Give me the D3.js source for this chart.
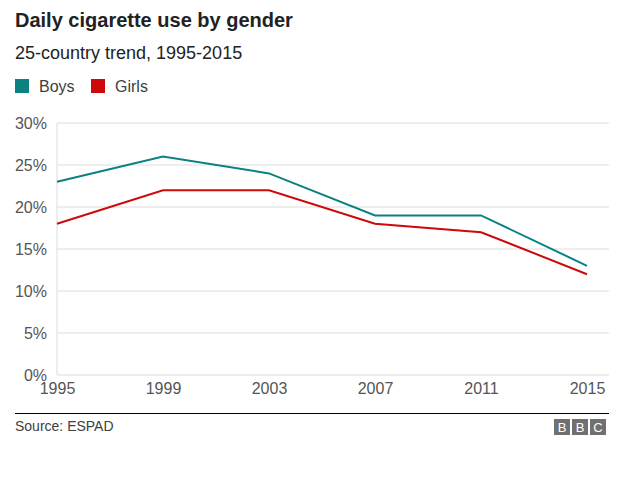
<!DOCTYPE html>
<html><head><meta charset="utf-8">
<script src="https://cdn.jsdelivr.net/npm/d3@7"></script>
<style>
body{margin:0;background:#fff;font-family:"Liberation Sans",Arial,Helvetica,sans-serif;}
</style></head>
<body>
<svg id="chart" width="624" height="485"></svg>
<script>
const years = [1995, 1999, 2003, 2007, 2011, 2015];
const boys = [23, 26, 24, 19, 19, 13];
const girls = [18, 22, 22, 18, 17, 12];
const yTicks = [0, 5, 10, 15, 20, 25, 30];
const seriesNames = ["Boys", "Girls"];
const seriesColors = ["#0a8282", "#cc0a0a"];

const svg = d3.select("#chart");
const font = '"Liberation Sans",Arial,Helvetica,sans-serif';

svg.append("text").attr("x", 15).attr("y", 27).attr("font-size", 20).attr("font-weight", "bold")
  .attr("fill", "#222").attr("font-family", font).text("Daily cigarette use by gender");
svg.append("text").attr("x", 15).attr("y", 59).attr("font-size", 18)
  .attr("fill", "#222").attr("font-family", font).text("25-country trend, 1995-2015");

// legend
const leg = svg.append("g");
const legX = [15, 91];
seriesNames.forEach((n, i) => {
  leg.append("rect").attr("x", legX[i]).attr("y", 79).attr("width", 14).attr("height", 14).attr("fill", seriesColors[i]);
  leg.append("text").attr("x", legX[i] + 24).attr("y", 92).attr("font-size", 16).attr("fill", "#404040")
    .attr("font-family", font).text(n);
});

const x = d3.scaleLinear().domain([1995, 2015]).range([57, 587]);
const y = d3.scaleLinear().domain([0, 30]).range([375, 123]);

// grid
const g = svg.append("g");
g.selectAll("line.grid").data(yTicks).join("line").attr("class", "grid")
  .attr("x1", 57).attr("x2", 609).attr("y1", d => y(d)).attr("y2", d => y(d))
  .attr("stroke", "#dcdcdc").attr("stroke-width", 1);
g.append("line").attr("x1", 57).attr("x2", 57).attr("y1", y(30)).attr("y2", y(0))
  .attr("stroke", "#dcdcdc");

const yAxis = d3.axisLeft(y).tickValues(yTicks).tickFormat(d => d + "%").tickSize(0).tickPadding(10);
const ya = svg.append("g").attr("transform", "translate(57,0)").call(yAxis);
ya.select(".domain").remove();
ya.selectAll("text").attr("font-size", 16).attr("fill", "#555").attr("font-family", font);

const xAxis = d3.axisBottom(x).tickValues(years).tickFormat(d3.format("d")).tickSize(0).tickPadding(8);
const xa = svg.append("g").attr("transform", "translate(0,375)").call(xAxis);
xa.select(".domain").remove();
xa.selectAll("text").attr("font-size", 16).attr("fill", "#555").attr("font-family", font);

const line = d3.line().x((d, i) => x(years[i])).y(d => y(d));
[boys, girls].forEach((s, i) => {
  svg.append("path").datum(s).attr("d", line).attr("fill", "none")
    .attr("stroke", seriesColors[i]).attr("stroke-width", 2);
});

// footer
svg.append("line").attr("x1", 15).attr("x2", 609).attr("y1", 413.5).attr("y2", 413.5).attr("stroke", "#000").attr("stroke-width", 1);
svg.append("text").attr("x", 15).attr("y", 431).attr("font-size", 14).attr("fill", "#404040")
  .attr("font-family", font).text("Source: ESPAD");
const logo = ["B", "B", "C"];
logo.forEach((c, i) => {
  svg.append("rect").attr("x", 554 + i * 18).attr("y", 419).attr("width", 16).attr("height", 16).attr("fill", "#707070");
  svg.append("text").attr("x", 554 + i * 18 + 8).attr("y", 432).attr("text-anchor", "middle")
    .attr("font-size", 13).attr("fill", "#fff").attr("font-family", font).text(c);
});
</script>
</body></html>
